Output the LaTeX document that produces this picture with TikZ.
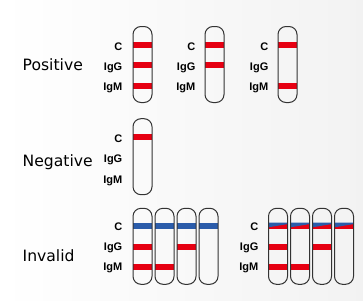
\documentclass[tikz,border=0pt]{standalone}
\usepackage{fontspec}
\setmainfont{Liberation Sans}
\newfontfamily\rowfont{DejaVu Sans}
\usetikzlibrary{positioning}

\definecolor{bandred}{HTML}{E60012}
\definecolor{bandblue}{HTML}{2B5CAA}

\tikzset{
  strip/.style={draw=black!80, line width=1pt, rounded corners=8pt,
    minimum width=19pt, minimum height=76pt, inner sep=0pt},
  linelabel/.style={font=\bfseries\fontsize{11}{11}\selectfont, anchor=east, inner sep=0pt},
  rowlabel/.style={font=\rowfont\fontsize{15.6}{16}\selectfont, anchor=base west, inner sep=0pt},
}

\begin{document}
\begin{tikzpicture}[x=1pt,y=-1pt]
    \useasboundingbox (0,0) rectangle (363,300);
    \shade[left color=white, right color=black!5] (0,0) rectangle (363,300);

    % Positive
    \node[rowlabel] (positive) at (22.5,70.5) {Positive};
    \fill[bandred] (133,41.7) rectangle +(19,6);
    \fill[bandred] (133,62) rectangle +(19,6);
    \fill[bandred] (133,82.7) rectangle +(19,6);
    \fill[bandred] (205,41.7) rectangle +(19,6);
    \fill[bandred] (205,62) rectangle +(19,6);
    \fill[bandred] (278,41.7) rectangle +(19,6);
    \fill[bandred] (278,82.7) rectangle +(19,6);
    \node[strip] (pos1) at (142.5,64.5) {};
    \node[strip] (pos2) at (214.5,64.5) {};
    \node[strip] (pos3) at (287.5,64.5) {};
    \foreach \s/\x in {a/122.5, b/195.5, c/268.5} {
        \node[linelabel] (posC\s) at (\x,46.5) {C};
        \node[linelabel] (posG\s) at (\x,67.5) {IgG};
        \node[linelabel] (posM\s) at (\x,87.5) {IgM};
    }

    % Negative
    \node[rowlabel] (negative) at (22.5,166.5) {Negative};
    \fill[bandred] (133,133.7) rectangle +(19,6);
    \node[strip] (neg1) at (142.5,156.7) {};
    \node[linelabel] (negC) at (122.5,139) {C};
    \node[linelabel] (negG) at (122.5,160) {IgG};
    \node[linelabel] (negM) at (122.5,180.5) {IgM};

    % Invalid
    \node[rowlabel] (invalid) at (22.5,261) {Invalid};
    \foreach \x in {133,155,177,199}
        \fill[bandblue] (\x,222.7) rectangle +(19,6);
    \foreach \x in {268.5,290.5,312.5,334.5} {
        \fill[bandred] (\x,222.7) rectangle +(19,6);
        \fill[bandblue] (\x,222.7) -- +(19,0) -- +(19,1.4) -- +(0,4.6) -- cycle;
    }
    \foreach \x in {133,177,268.5,312.5}
        \fill[bandred] (\x,243.7) rectangle +(19,6);
    \foreach \x in {133,155,268.5,290.5}
        \fill[bandred] (\x,263.7) rectangle +(19,6);
    \foreach \n/\x in {1/133,2/155,3/177,4/199,5/268.5,6/290.5,7/312.5,8/334.5}
        \node[strip] (inv\n) at (\x+9.5,246.3) {};
    \foreach \s/\x in {a/122.5, b/258.5} {
        \node[linelabel] (invC\s) at (\x,227) {C};
        \node[linelabel] (invG\s) at (\x,247.7) {IgG};
        \node[linelabel] (invM\s) at (\x,268.3) {IgM};
    }
\end{tikzpicture}
\end{document}
